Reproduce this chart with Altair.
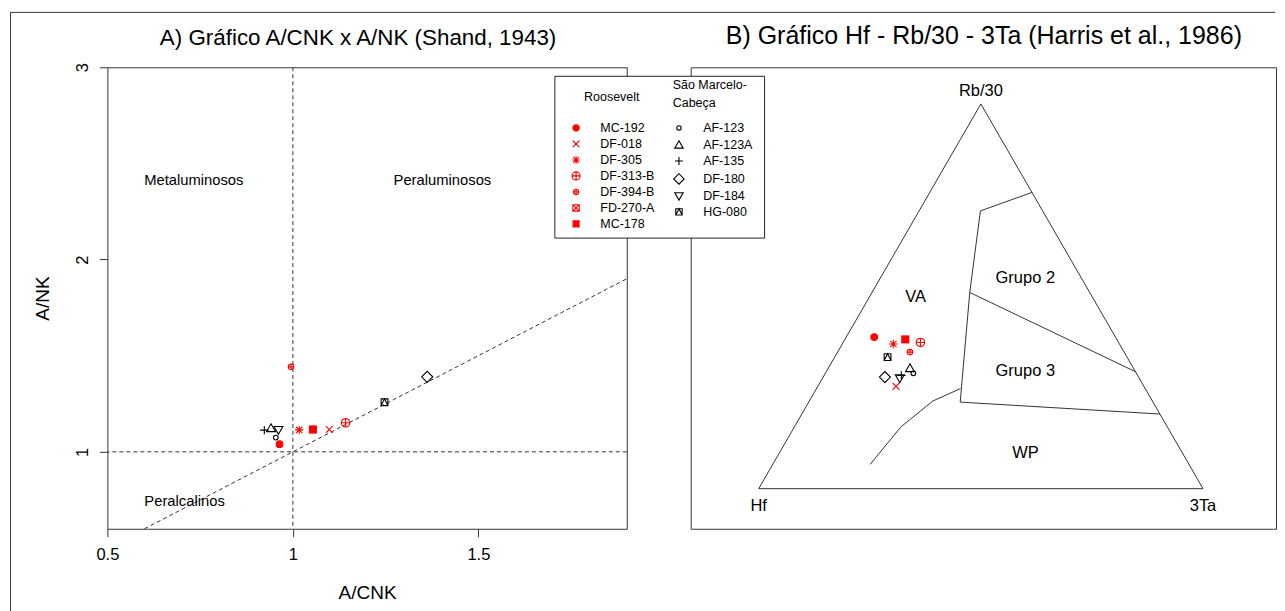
import altair as alt
import pandas as pd

FONT = "Liberation Sans"
RED = "#FF0000"
INK = "#000000"
LINE = "#333333"

# ---------------- data ----------------
roosevelt = ["MC-192", "DF-018", "DF-305", "DF-313-B", "DF-394-B", "FD-270-A", "MC-178"]
sao_marcelo = ["AF-123", "AF-123A", "AF-135", "DF-180", "DF-184", "HG-080"]

# Shand (1943): A/CNK and A/NK
acnk_r = [0.964, 1.098, 1.017, 1.142, 0.995, 1.054, 1.054]
ank_r = [1.040, 1.116, 1.114, 1.151, 1.442, 1.116, 1.116]
acnk_s = [0.954, 0.941, 0.923, 1.362, 0.961, 1.247]
ank_s = [1.074, 1.123, 1.113, 1.390, 1.114, 1.258]

# Harris et al. (1986): Hf, Rb/30, 3Ta (%)
hf_r = [54.3, 55.8, 50.9, 44.6, 48.2, 47.6, 47.6]
rb_r = [39.4, 26.6, 37.6, 38.0, 35.5, 38.8, 38.8]
ta_r = [6.3, 17.6, 11.5, 17.4, 16.3, 13.6, 13.6]
hf_s = [50.2, 50.3, 53.2, 57.1, 53.9, 53.9]
rb_s = [30.0, 31.3, 29.4, 29.0, 28.7, 34.2]
ta_s = [19.8, 18.4, 17.4, 13.9, 17.4, 11.9]

# Shand reference lines
vline_acnk = [1.0]
hline_ank = [1.0]
diag_acnk = [0.6, 1.9]
diag_ank = [0.6, 1.9]

# Shand field names (A/CNK, A/NK)
shand_labels = ["Metaluminosos", "Peraluminosos", "Peralcalinos"]
shand_lab_x = [0.733, 1.403, 0.708]
shand_lab_y = [2.408, 2.408, 0.737]

# Harris boundaries (Hf, Rb/30, 3Ta)
harris_lines = {
    "outline": [(100, 0, 0), (0, 100, 0), (0, 0, 100), (100, 0, 0)],
    "va": [(0, 77, 23), (14, 72.2, 13.8), (27, 51, 22), (43.4, 22.5, 34.1)],
    "g2g3": [(27, 51, 22), (0, 30.4, 69.6)],
    "g3wp": [(43.4, 22.5, 34.1), (0, 19.4, 80.6)],
    "wpcurve": [(71.8, 6.3, 21.9), (59.9, 16.1, 24.0), (49.4, 22.8, 27.8), (41.6, 26.0, 32.4)],
}
field_names = ["VA", "Grupo 2", "Grupo 3", "WP"]
field_hf = [39.8, 12.6, 24.7, 35.3]
field_rb = [49.8, 54.8, 30.6, 9.3]
field_ta = [10.4, 32.6, 44.7, 55.4]
apex_name = ["Rb/30"]
base_names = ["Hf", "3Ta"]

title_left = "A) Gráfico A/CNK x A/NK (Shand, 1943)"
title_right = "B) Gráfico Hf - Rb/30 - 3Ta (Harris et al., 1986)"

# ---------------- symbols (R pch look-alikes) ----------------
def circ(r):
    return f"M{-r},0A{r},{r} 0 1,0 {r},0A{r},{r} 0 1,0 {-r},0Z"

shape_of = {
    "MC-192": circ(0.8),
    "DF-018": "M-0.8,-0.8L0.8,0.8M-0.8,0.8L0.8,-0.8",
    "DF-305": "M-1,0L1,0M0,-1L0,1M-0.75,-0.75L0.75,0.75M-0.75,0.75L0.75,-0.75",
    "DF-313-B": circ(1) + "M-1,0L1,0M0,-1L0,1",
    "DF-394-B": circ(0.65) + "M-0.65,0L0.65,0M0,-0.65L0,0.65",
    "FD-270-A": "M-0.8,-0.8H0.8V0.8H-0.8ZM-0.8,-0.8L0.8,0.8M-0.8,0.8L0.8,-0.8",
    "MC-178": "M-0.75,-0.75H0.75V0.75H-0.75Z",
    "AF-123": circ(0.55),
    "AF-123A": "M0,-1.05L1.05,0.8L-1.05,0.8Z",
    "AF-135": "M-1,0L1,0M0,-1L0,1",
    "DF-180": "M-1.3,0L0,-1.3L1.3,0L0,1.3Z",
    "DF-184": "M-1.05,-0.8L1.05,-0.8L0,1.05Z",
    "HG-080": "M-0.8,-0.8H0.8V0.8H-0.8ZM-0.8,0.8L0,-0.8L0.8,0.8",
}
filled = {"MC-192", "MC-178"}
color_of = {**{n: RED for n in roosevelt}, **{n: INK for n in sao_marcelo}}


def enc_scales(names):
    return (
        alt.Scale(domain=names, range=[shape_of[n] for n in names]),
        alt.Scale(domain=names, range=[color_of[n] for n in names]),
        alt.Scale(domain=names, range=[color_of[n] if n in filled else "transparent" for n in names]),
    )


def points(df, names, x, y, legend):
    sh, st, fi = enc_scales(names)
    return alt.Chart(df).mark_point(size=72, strokeWidth=1.1, opacity=1, filled=False).encode(
        x=x, y=y,
        shape=alt.Shape("sample:N", scale=sh, legend=legend),
        stroke=alt.Stroke("sample:N", scale=st, legend=legend),
        fill=alt.Fill("sample:N", scale=fi, legend=legend),
    )


one = pd.DataFrame({"k": [0]})


def title_mark(text, cx, cy, size):
    return alt.Chart(pd.DataFrame({"t": [text]})).mark_text(
        font=FONT, fontSize=size, color=INK, align="center", baseline="alphabetic").encode(
        x=alt.value(cx), y=alt.value(cy), text="t:N")


# ---------------- left panel (Shand) ----------------
x_enc = alt.X("acnk:Q", title="A/CNK",
              scale=alt.Scale(domain=[0.5, 1.9], nice=False, zero=False),
              axis=alt.Axis(values=[0.5, 1, 1.5], format="~g", grid=False, domain=False,
                            tickSize=8, tickColor=LINE, labelFont=FONT, labelFontSize=16.5,
                            labelColor=INK, labelPadding=10, labelFlush=False, labelOverlap=False,
                            titleFont=FONT, titleFontSize=19, titleFontWeight="normal",
                            titleColor=INK, titlePadding=20))
y_enc = alt.Y("ank:Q", title="A/NK",
              scale=alt.Scale(domain=[0.6, 3.0], nice=False, zero=False),
              axis=alt.Axis(values=[1, 2, 3], format="~g", grid=False, domain=False,
                            tickSize=8, tickColor=LINE, labelFont=FONT, labelFontSize=16.5,
                            labelColor=INK, labelAngle=270, labelAlign="center",
                            labelBaseline="bottom", labelPadding=9, labelFlush=False,
                            labelOverlap=False, titleFont=FONT, titleFontSize=19,
                            titleFontWeight="normal", titleColor=INK, titlePadding=22))

# outer figure frame (top and left edges; the others lie outside the picture)
frame_top = alt.Chart(one).mark_rule(color=LINE, strokeWidth=1).encode(
    x=alt.value(-97), x2=alt.value(1169), y=alt.value(-55))
frame_left = alt.Chart(one).mark_rule(color=LINE, strokeWidth=1).encode(
    x=alt.value(-97), y=alt.value(-55), y2=alt.value(560))

vrule = alt.Chart(pd.DataFrame({"acnk": vline_acnk})).mark_rule(
    strokeDash=[4, 3], color=LINE, strokeWidth=1).encode(x=x_enc)
hrule = alt.Chart(pd.DataFrame({"ank": hline_ank})).mark_rule(
    strokeDash=[4, 3], color=LINE, strokeWidth=1).encode(y=y_enc)
diag = alt.Chart(pd.DataFrame({"acnk": diag_acnk, "ank": diag_ank})).mark_line(
    strokeDash=[4, 3], color=LINE, strokeWidth=1).encode(x=x_enc, y=y_enc)
ann = alt.Chart(pd.DataFrame({"label": shand_labels, "acnk": shand_lab_x, "ank": shand_lab_y})).mark_text(
    font=FONT, fontSize=14.8, color=INK).encode(x=x_enc, y=y_enc, text="label:N")

all_names = roosevelt + sao_marcelo
df_shand = pd.DataFrame({"sample": all_names, "acnk": acnk_r + acnk_s, "ank": ank_r + ank_s})
pts_left = points(df_shand, all_names, x_enc, y_enc, None)

left = alt.layer(frame_top, frame_left, title_mark(title_left, 251, -22, 22.4), vrule, hrule,
                 diag, ann, pts_left).properties(width=520, height=462)

# ---------------- right panel (Harris) ----------------
TX = "(datum.ta + datum.rb / 2) / (datum.hf + datum.rb + datum.ta)"
TY = "(datum.rb * sqrt(3) / 2) / (datum.hf + datum.rb + datum.ta)"
tx = alt.X("tx:Q", scale=alt.Scale(domain=[-0.1531, 1.1643], nice=False, zero=False), axis=None)
ty = alt.Y("ty:Q", scale=alt.Scale(domain=[-0.0902, 0.9485], nice=False, zero=False), axis=None)

rows = []
for seg, pts in harris_lines.items():
    for i, (a, b, c) in enumerate(pts):
        rows.append({"seg": seg, "idx": i, "hf": a, "rb": b, "ta": c})
df_lines = pd.DataFrame(rows)

lines = alt.Chart(df_lines).transform_calculate(tx=TX, ty=TY).mark_line(
    color=LINE, strokeWidth=1).encode(x=tx, y=ty, detail="seg:N", order="idx:Q")

df_apex = pd.DataFrame({"label": apex_name, "hf": [0], "rb": [100], "ta": [0]})
df_base = pd.DataFrame({"label": base_names, "hf": [100, 0], "rb": [0, 0], "ta": [0, 100]})
df_fields = pd.DataFrame({"label": field_names, "hf": field_hf, "rb": field_rb, "ta": field_ta})

txt = dict(font=FONT, fontSize=16.5, color=INK)
apex_lab = alt.Chart(df_apex).transform_calculate(tx=TX, ty=TY).mark_text(dy=-13, **txt).encode(
    x=tx, y=ty, text="label:N")
base_lab = alt.Chart(df_base).transform_calculate(tx=TX, ty=TY).mark_text(dy=17, **txt).encode(
    x=tx, y=ty, text="label:N")
field_lab = alt.Chart(df_fields).transform_calculate(tx=TX, ty=TY).mark_text(**txt).encode(
    x=tx, y=ty, text="label:N")

legend_box = alt.Chart(one).mark_rect(fill="white", stroke="#222222", strokeWidth=1).encode(
    x=alt.value(-136), x2=alt.value(74), y=alt.value(9), y2=alt.value(171))


def legend(ttl, lx, ly, tpad, anchor, align):
    return alt.Legend(title=ttl, orient="none", legendX=lx, legendY=ly, direction="vertical",
                      titleFont=FONT, titleFontSize=12.5, titleFontWeight="normal",
                      titleColor=INK, titleAnchor=anchor, titleAlign=align, titleLineHeight=18,
                      titlePadding=tpad, labelFont=FONT, labelFontSize=12.5, labelColor=INK,
                      labelOffset=18, labelLimit=300, symbolSize=64, symbolStrokeWidth=1.1,
                      rowPadding=3, padding=0)


df_r = pd.DataFrame({"sample": roosevelt, "hf": hf_r, "rb": rb_r, "ta": ta_r})
df_s = pd.DataFrame({"sample": sao_marcelo, "hf": hf_s, "rb": rb_s, "ta": ta_s})

pts_r = points(df_r, roosevelt, tx, ty,
               legend("Roosevelt", -121, 24, 18, "middle", "center")).transform_calculate(tx=TX, ty=TY)
pts_s = points(df_s, sao_marcelo, tx, ty,
               legend(["São Marcelo-", "Cabeça"], -18, 12, 12, "start", "left")).transform_calculate(tx=TX, ty=TY)

right = alt.layer(title_mark(title_right, 293.5, -23, 25), lines, apex_lab, base_lab, field_lab,
                  legend_box, pts_r, pts_s).resolve_scale(
    shape="independent", stroke="independent", fill="independent").properties(
    width=586, height=462)

chart = alt.hconcat(left, right, spacing=64, bounds="flush").resolve_scale(
    shape="independent", stroke="independent", fill="independent").properties(
    padding={"left": 1.5, "top": 3, "right": 0, "bottom": 0}).configure_view(
    stroke=LINE, strokeWidth=1)

chart.save("out.html", embed_options={"renderer": "svg", "actions": False})
